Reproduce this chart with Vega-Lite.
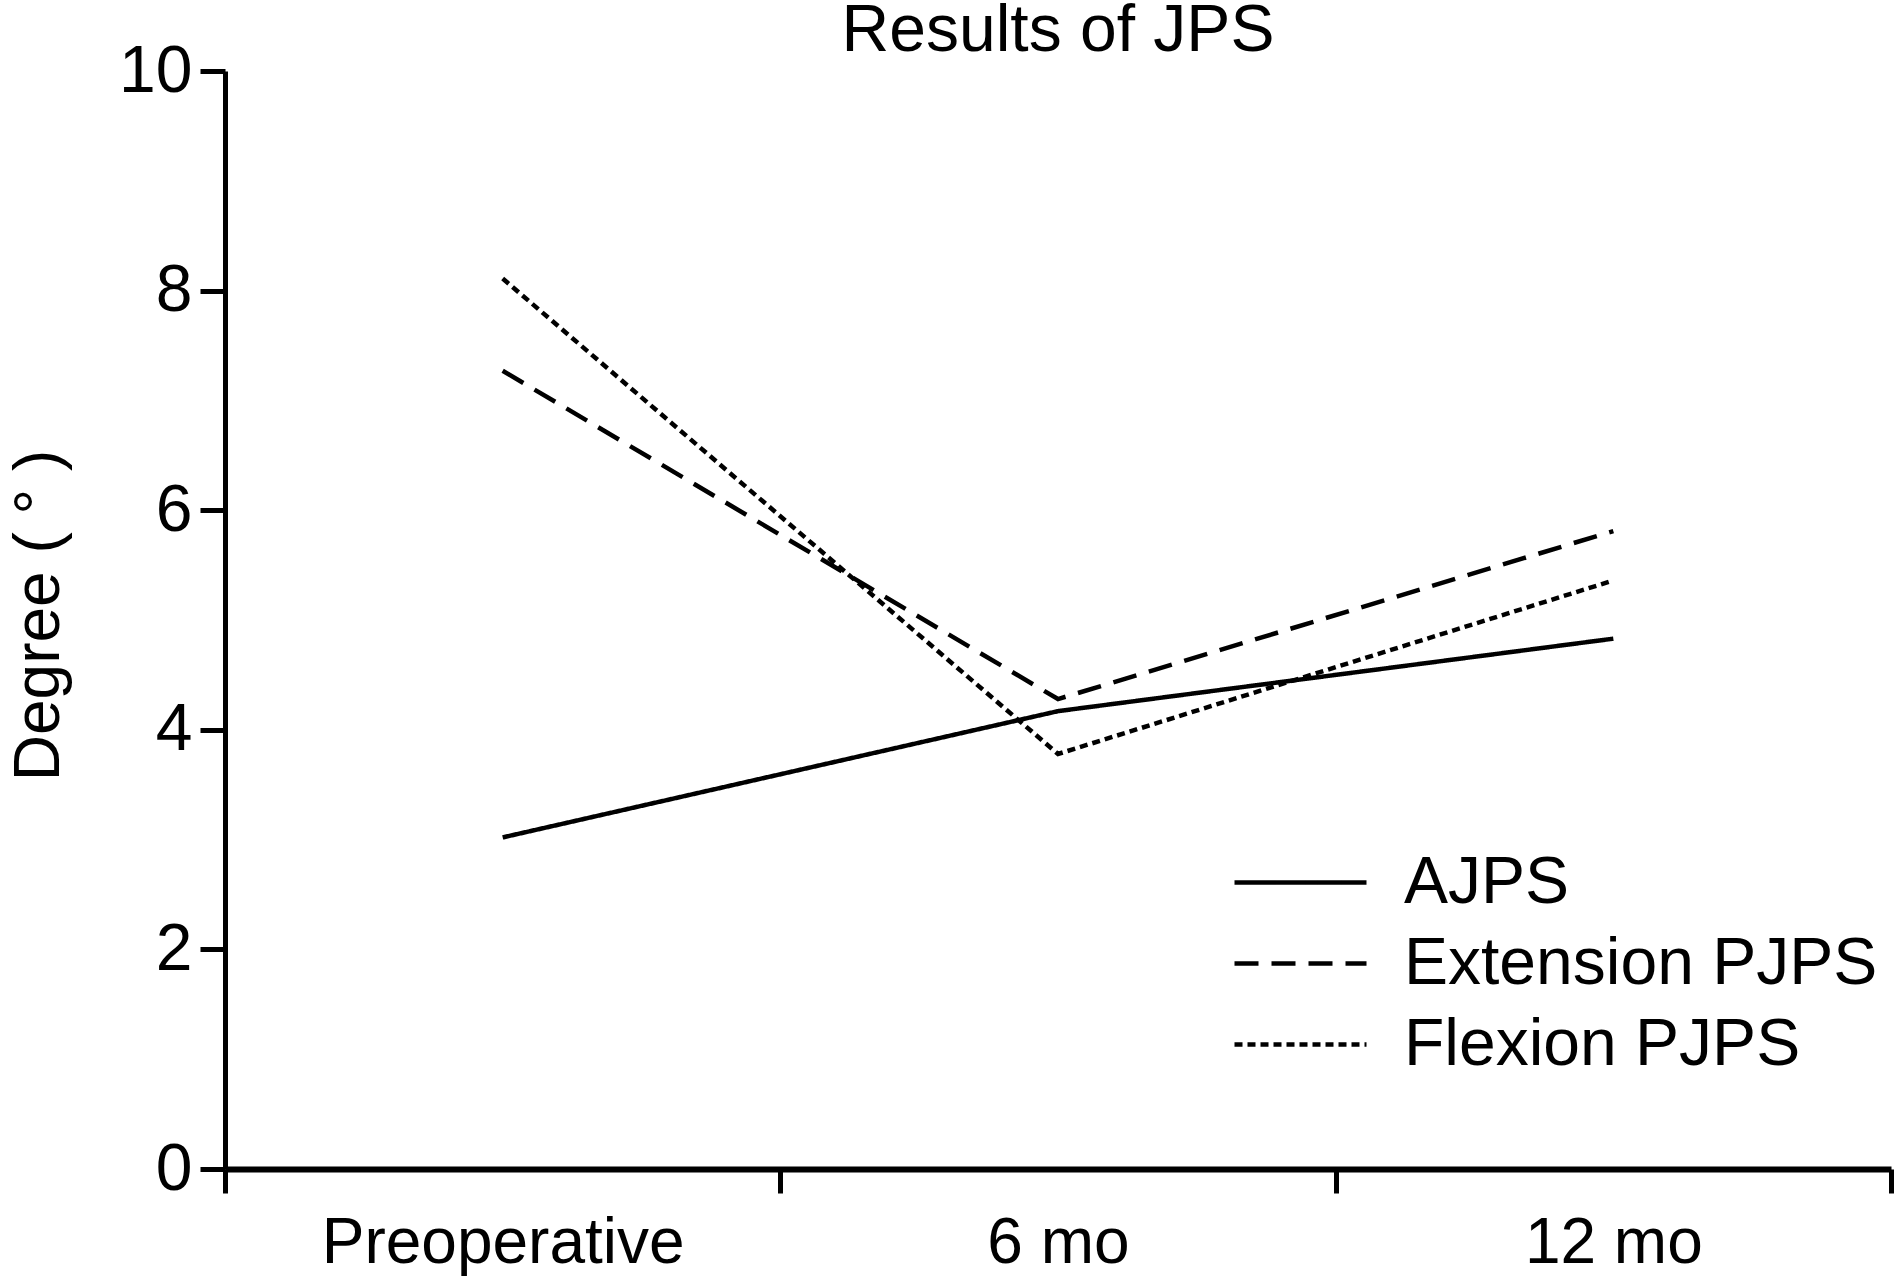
{
  "$schema": "https://vega.github.io/schema/vega-lite/v6.json",
  "autosize": {"type": "none"},
  "padding": {"left": 225, "top": 71, "right": 3, "bottom": 108},
  "width": 1666,
  "height": 1098,
  "background": "white",
  "title": {
    "text": "Results of JPS",
    "font": "Liberation Sans",
    "fontSize": 66,
    "fontWeight": "normal",
    "color": "black",
    "anchor": "middle",
    "frame": "group",
    "baseline": "alphabetic",
    "offset": -11,
    "dy": 68
  },
  "config": {
    "view": {"stroke": null},
    "font": "Liberation Sans"
  },
  "data": {
    "values": [
      {"time": "Preoperative", "series": "AJPS", "value": 3.02},
      {"time": "6 mo", "series": "AJPS", "value": 4.17},
      {"time": "12 mo", "series": "AJPS", "value": 4.83},
      {"time": "Preoperative", "series": "Extension PJPS", "value": 7.27},
      {"time": "6 mo", "series": "Extension PJPS", "value": 4.28},
      {"time": "12 mo", "series": "Extension PJPS", "value": 5.81},
      {"time": "Preoperative", "series": "Flexion PJPS", "value": 8.11},
      {"time": "6 mo", "series": "Flexion PJPS", "value": 3.78},
      {"time": "12 mo", "series": "Flexion PJPS", "value": 5.36}
    ]
  },
  "mark": {"type": "line", "color": "black", "strokeWidth": 4.5},
  "encoding": {
    "x": {
      "field": "time",
      "type": "ordinal",
      "sort": ["Preoperative", "6 mo", "12 mo"],
      "scale": {"type": "band", "paddingInner": 0, "paddingOuter": 0},
      "axis": {
        "title": null,
        "tickBand": "extent",
        "labelAngle": 0,
        "labelFont": "Liberation Sans",
        "labelFontSize": 64,
        "labelColor": "black",
        "labelBaseline": "alphabetic",
        "labelPadding": 69,
        "labelLimit": 1000,
        "domainColor": "black",
        "domainWidth": 6,
        "tickColor": "black",
        "tickWidth": 5,
        "tickSize": 24,
        "grid": false
      }
    },
    "y": {
      "field": "value",
      "type": "quantitative",
      "scale": {"domain": [0, 10], "nice": false},
      "axis": {
        "title": "Degree ( ° )",
        "titleFont": "Liberation Sans",
        "titleFontSize": 64,
        "titleFontWeight": "normal",
        "titleColor": "black",
        "titleAngle": -90,
        "titleAlign": "center",
        "titleBaseline": "alphabetic",
        "titleX": -167,
        "titleY": 544,
        "values": [0, 2, 4, 6, 8, 10],
        "labelFont": "Liberation Sans",
        "labelFontSize": 66,
        "labelColor": "black",
        "labelPadding": 8,
        "domainColor": "black",
        "domainWidth": 5,
        "tickColor": "black",
        "tickWidth": 5,
        "tickSize": 25,
        "grid": false
      }
    },
    "strokeDash": {
      "field": "series",
      "type": "nominal",
      "scale": {
        "domain": ["AJPS", "Extension PJPS", "Flexion PJPS"],
        "range": [[1, 0], [24, 13], [8, 5]]
      },
      "legend": {
        "title": null,
        "orient": "none",
        "legendX": 1040,
        "legendY": 776,
        "padding": 0,
        "symbolType": "M-2,0H2",
        "symbolSize": 4356,
        "symbolStrokeWidth": 4.5,
        "symbolStrokeColor": "black",
        "symbolFillColor": "transparent",
        "labelFont": "Liberation Sans",
        "labelFontSize": 66,
        "labelColor": "black",
        "labelOffset": 68,
        "rowPadding": 12,
        "labelLimit": 1000
      }
    }
  }
}
